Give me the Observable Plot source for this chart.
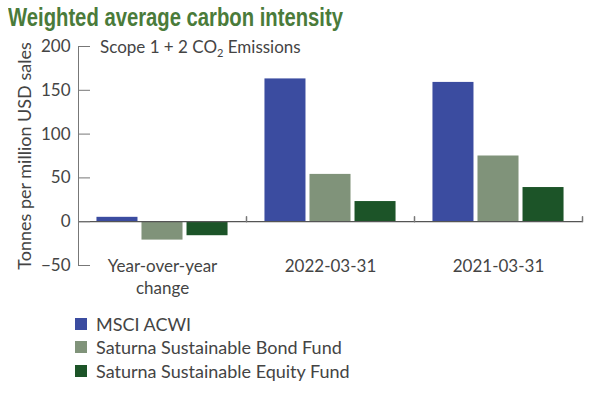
<!DOCTYPE html>
<html>
<head>
<meta charset="utf-8">
<script src="https://cdn.jsdelivr.net/npm/d3@7"></script>
<script src="https://cdn.jsdelivr.net/npm/@observablehq/plot@0.6"></script>
<style>
  html, body { margin: 0; padding: 0; background: #fff; }
  #wrap { position: relative; width: 601px; height: 396px; overflow: hidden; }
  #title { position: absolute; left: 8px; top: 2px; line-height: 30px; font-family: "Liberation Sans", Arial, sans-serif; font-weight: bold; font-size: 25px; color: #4a7b3a; white-space: nowrap; display: inline-block; transform-origin: 0 50%; }
  #subtitle { position: absolute; left: 100px; top: 37px; line-height: 20px; font-family: Lato, sans-serif; font-size: 17px; color: #444; white-space: nowrap; }
  #subtitle sub { font-size: 11px; vertical-align: -4px; line-height: 0; }
  #chart { position: absolute; left: 0; top: 0; }
  #legend { position: absolute; left: 75px; top: 312px; }
  .lg-swatch { height: 23.5px; padding-bottom: 0 !important; }
</style>
</head>
<body>
<div id="wrap">
  <div id="chart"></div>
  <div id="title">Weighted average carbon intensity</div>
  <div id="subtitle">Scope 1 + 2 CO<sub>2</sub> Emissions</div>
  <div id="legend"></div>
</div>
<script>
const categories = ["Year-over-year change", "2022-03-31", "2021-03-31"];
const series = ["MSCI ACWI", "Saturna Sustainable Bond Fund", "Saturna Sustainable Equity Fund"];
const msciValues = [5, 163, 159];
const bondValues = [-21, 54, 75];
const equityValues = [-16, 23, 39];
const yTicks = [-50, 0, 50, 100, 150, 200];
const seriesColors = ["#3b4ca0", "#80937a", "#1c5428"];
const yLabel = "Tonnes per million USD sales";

const valuesBySeries = [msciValues, bondValues, equityValues];
const data = series.flatMap((s, i) =>
  categories.map((c, j) => ({category: c, series: s, value: valuesBySeries[i][j]}))
);

const tickShape = {draw(context, l) { context.moveTo(0, 0); context.lineTo(0, -l); }};

const plot = Plot.plot({
  width: 601,
  height: 300,
  marginTop: 46,
  marginBottom: 35,
  marginLeft: 78,
  marginRight: 19,
  style: {fontFamily: "Lato, sans-serif", fontSize: "17px", color: "#444", background: "transparent", overflow: "visible"},
  fx: {domain: categories, padding: 0, round: false, label: null},
  x: {domain: series, paddingInner: 0.089, paddingOuter: 0.41, round: false, axis: null},
  y: {domain: [-50, 200], label: null},
  color: {domain: series, range: seriesColors},
  marks: [
    Plot.barY(data, {fx: "category", x: "series", y: "value", fill: "series"}),
    Plot.ruleY([0], {stroke: "#555", strokeWidth: 1.2}),
    Plot.frame({anchor: "left", facetAnchor: "left", stroke: "#777"}),
    Plot.axisY(yTicks, {tickSize: -12, text: null, label: null, stroke: "#777"}),
    Plot.axisY(yTicks, {tickSize: 0, tickPadding: 8, fill: "#444", label: null}),
    Plot.axisY(yTicks, {tickSize: 0, text: null, fill: "#444", fontSize: 18, label: yLabel, labelAnchor: "center", labelOffset: 60, labelArrow: "none"}),
    Plot.axisFx({anchor: "bottom", tickSize: 0, tickPadding: -9, fill: "#444", label: null, lineHeight: 1.3,
      tickFormat: d => d.replace(" change", "\nchange")}),
    Plot.vector([0], {y: d => d, frameAnchor: "right", length: 5, rotate: 0, anchor: "start", shape: tickShape, stroke: "#777"})
  ]
});
document.getElementById("chart").appendChild(plot);

const legend = plot.legend("color", {
  columns: 1,
  swatchSize: 12,
  className: "lg",
  style: {fontFamily: "Lato, sans-serif", fontSize: "18px", color: "#444", margin: "0"}
});
document.getElementById("legend").appendChild(legend);

// squeeze the bold title horizontally to mimic the condensed face of the original
const title = document.getElementById("title");
const tw = title.getBoundingClientRect().width;
title.style.transform = `scaleX(${335 / tw})`;
</script>
</body>
</html>
